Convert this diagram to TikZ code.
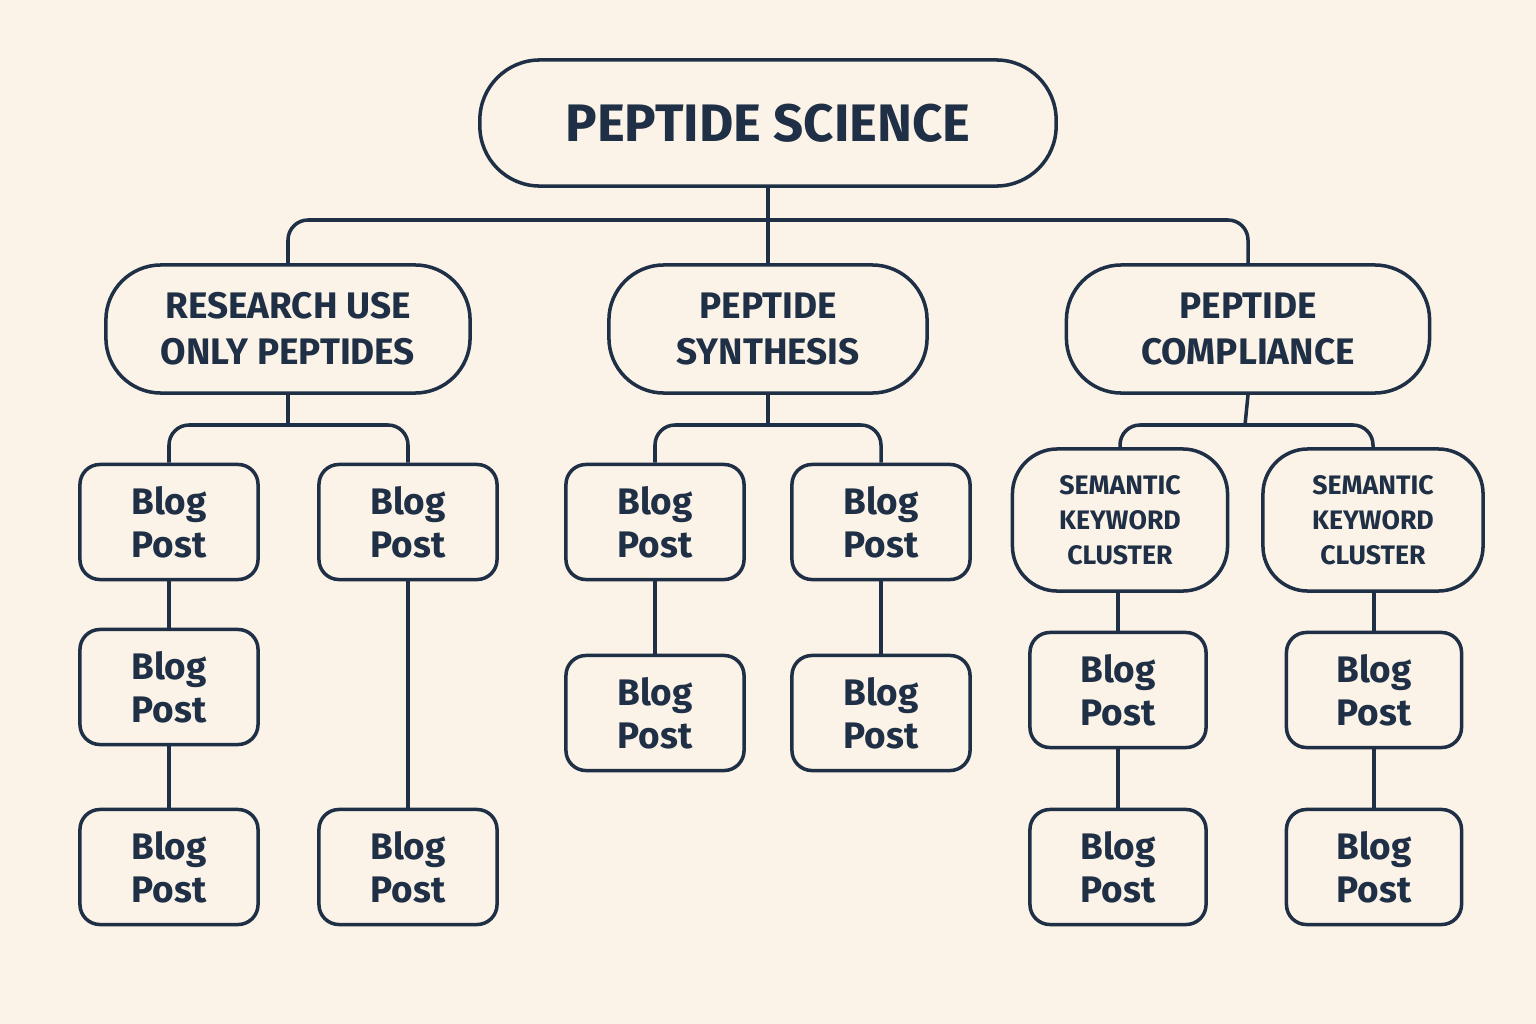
\documentclass[tikz,border=0pt]{standalone}
\usepackage{fontspec}
\setmainfont{Fira Sans}
\definecolor{bg}{HTML}{FBF3E8}
\definecolor{ink}{HTML}{1F2F45}
\begin{document}
\begin{tikzpicture}[x=0.01cm,y=-0.01cm,
  box/.style={draw=ink,line width=1pt,fill=bg,text=ink,font=\bfseries,align=center,inner sep=0pt},
  big/.style={box,rounded corners=0.6cm,minimum width=5.76cm,minimum height=1.26cm,font=\bfseries\fontsize{15}{18}\selectfont},
  mid/.style={box,rounded corners=0.55cm,minimum height=1.28cm,font=\bfseries\fontsize{10.5}{13}\selectfont},
  blog/.style={box,rounded corners=0.2cm,minimum width=1.78cm,minimum height=1.15cm,font=\bfseries\fontsize{10.5}{12.2}\selectfont},
  sem/.style={box,rounded corners=0.45cm,minimum height=1.42cm,font=\bfseries\fontsize{7.6}{10}\selectfont},
  link/.style={draw=ink,line width=1pt,rounded corners=0.2cm}]
\fill[bg] (0,0) rectangle (1536,1024);
\node[big] (top) at (768,123) {PEPTIDE SCIENCE};
\node[mid,minimum width=3.64cm] (ruo) at (288,329) {RESEARCH USE\\ONLY PEPTIDES};
\node[mid,minimum width=3.18cm] (syn) at (768,329) {PEPTIDE\\SYNTHESIS};
\node[mid,minimum width=3.63cm] (comp) at (1248,329) {PEPTIDE\\COMPLIANCE};
\coordinate (bus) at (768,220);
\draw[link] (ruo.north) |- (bus) -| (comp.north);
\draw[link] (top.south) -- (syn.north);
% RUO
\node[blog] (a1) at (169,522) {Blog\\Post};
\node[blog] (a2) at (169,687) {Blog\\Post};
\node[blog] (a3) at (169,867) {Blog\\Post};
\node[blog] (b1) at (408,522) {Blog\\Post};
\node[blog] (b3) at (408,867) {Blog\\Post};
\coordinate (s1) at (288,425);
\draw[link] (ruo.south) -- (s1);
\draw[link] (a1.north) |- (s1) -| (b1.north);
\draw[link] (a1) -- (a2); \draw[link] (a2) -- (a3); \draw[link] (b1) -- (b3);
% synthesis
\node[blog] (c1) at (655,522) {Blog\\Post};
\node[blog] (c2) at (655,713) {Blog\\Post};
\node[blog] (d1) at (881,522) {Blog\\Post};
\node[blog] (d2) at (881,713) {Blog\\Post};
\coordinate (s2) at (768,425);
\draw[link] (syn.south) -- (s2);
\draw[link] (c1.north) |- (s2) -| (d1.north);
\draw[link] (c1) -- (c2); \draw[link] (d1) -- (d2);
% compliance
\node[sem,minimum width=2.15cm] (e0) at (1120,520) {SEMANTIC\\KEYWORD\\CLUSTER};
\node[sem,minimum width=2.2cm] (f0) at (1373,520) {SEMANTIC\\KEYWORD\\CLUSTER};
\coordinate (s3) at (1245,425);
\draw[link] (comp.south) -- (s3);
\draw[link] (e0.north) |- (s3) -| (f0.north);
\node[blog,minimum width=1.76cm] (e1) at (1118,690) {Blog\\Post};
\node[blog,minimum width=1.76cm] (e2) at (1118,867) {Blog\\Post};
\node[blog,minimum width=1.75cm] (f1) at (1374,690) {Blog\\Post};
\node[blog,minimum width=1.75cm] (f2) at (1374,867) {Blog\\Post};
\draw[link] (e0.south -| e1.north) -- (e1); \draw[link] (e1) -- (e2);
\draw[link] (f0.south -| f1.north) -- (f1); \draw[link] (f1) -- (f2);
\end{tikzpicture}
\end{document}
